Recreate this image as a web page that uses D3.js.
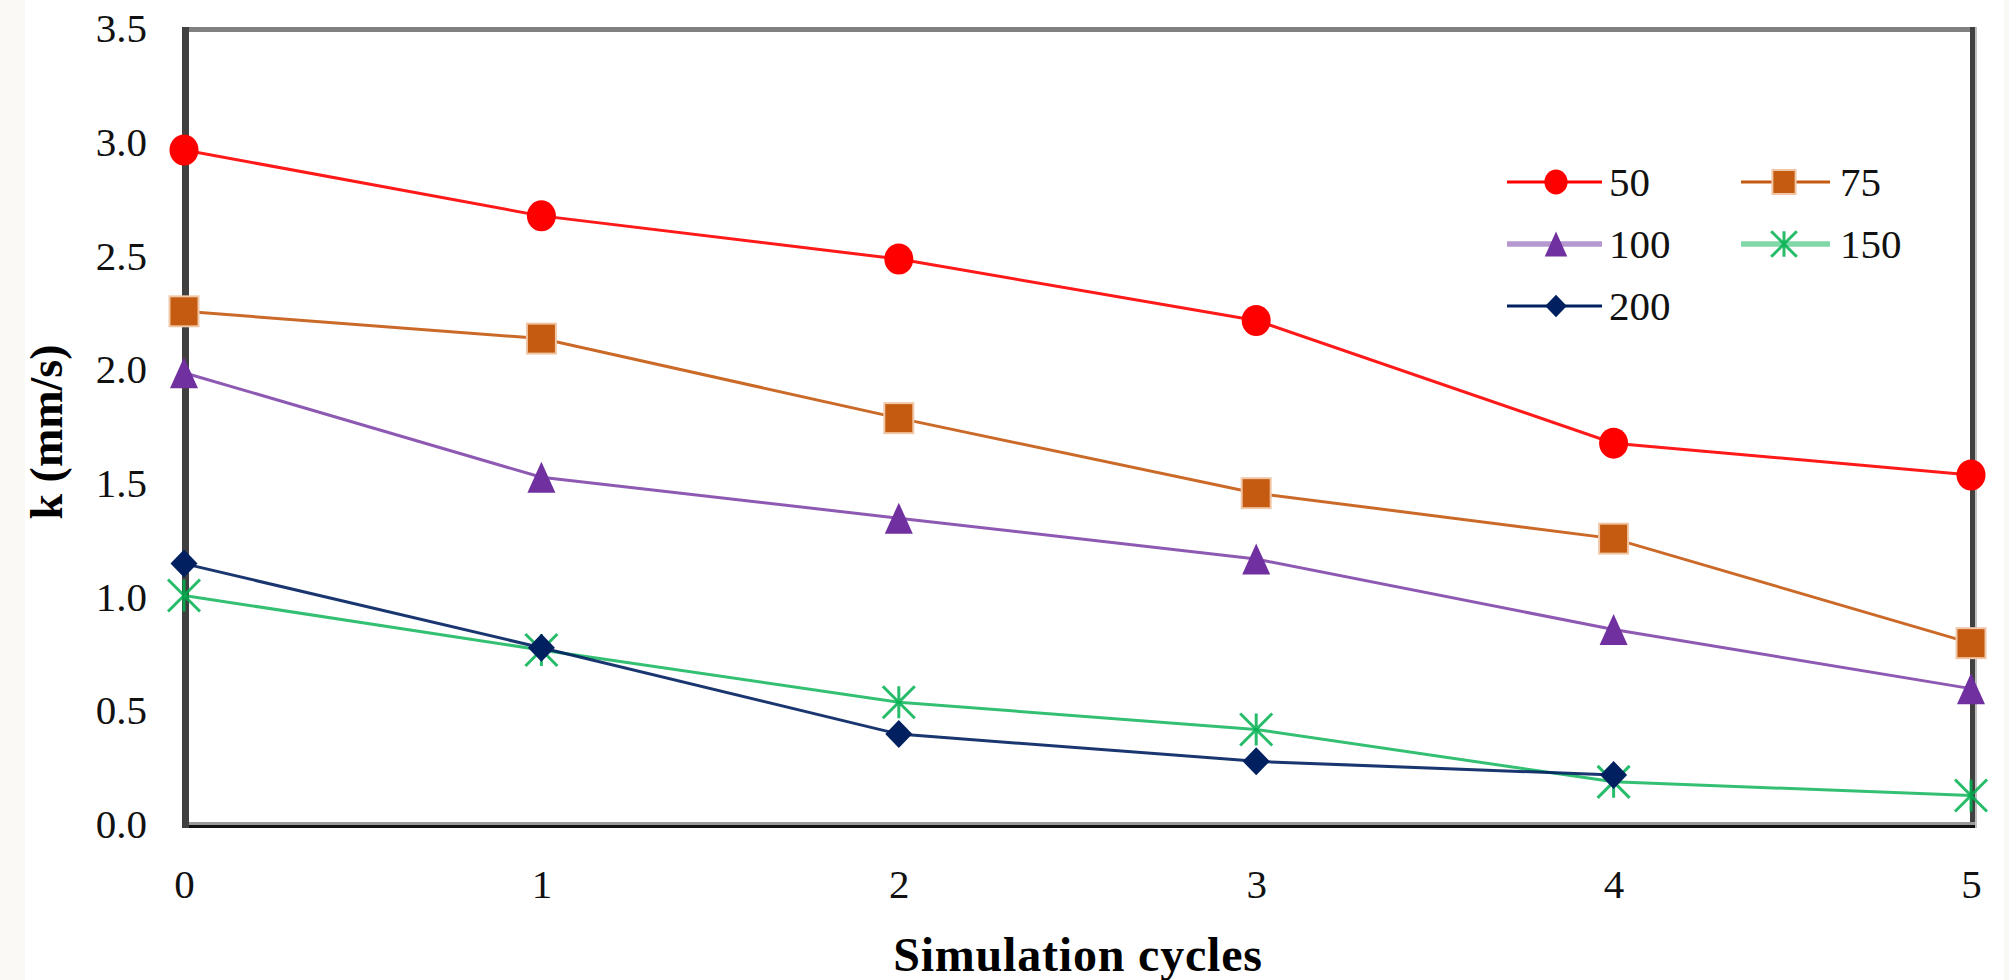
<!DOCTYPE html>
<html>
<head>
<meta charset="utf-8">
<script src="https://cdn.jsdelivr.net/npm/d3@7"></script>
<style>
  html, body { margin: 0; padding: 0; background: #ffffff; }
  svg { display: block; }
</style>
</head>
<body>
<svg id="chart" width="2009" height="980"></svg>
<script>
// ---- data ----
const cycles = [0, 1, 2, 3, 4, 5];
const yTicks = [0, 0.5, 1.0, 1.5, 2.0, 2.5, 3.0, 3.5];
const xTicks = [0, 1, 2, 3, 4, 5];
const seriesNames = ["50", "75", "100", "150", "200"];
const k50  = [2.97, 2.68, 2.49, 2.22, 1.68, 1.54];
const k75  = [2.26, 2.14, 1.79, 1.46, 1.26, 0.80];
const k100 = [1.99, 1.53, 1.35, 1.17, 0.86, 0.60];
const k150 = [1.01, 0.77, 0.54, 0.42, 0.19, 0.13];
const k200 = [1.15, 0.78, 0.40, 0.28, 0.22];
const xTitle = "Simulation cycles";
const yTitle = "k (mm/s)";

// ---- styles ----
const colors = ["#FF0000", "#C55A11", "#7030A0", "#00B050", "#002060"];
const shapes = ["circle", "square", "triangle", "star", "diamond"];
const values = [k50, k75, k100, k150, k200];

const svg = d3.select("#chart");
const W = 2009, H = 980;
svg.append("rect").attr("x", 0).attr("y", 0).attr("width", W).attr("height", H).attr("fill", "#ffffff");
svg.append("rect").attr("x", 0).attr("y", 0).attr("width", 25).attr("height", H).attr("fill", "#fbf9f6");
svg.append("rect").attr("x", 2004).attr("y", 0).attr("width", 5).attr("height", H).attr("fill", "#fbf9f6");

const x = d3.scaleLinear().domain([0, 5]).range([184, 1971]);
const y = d3.scaleLinear().domain([0, 3.5]).range([825, 29.5]);

const serif = "'Liberation Serif', 'DejaVu Serif', serif";

// ---- frame ----
const frame = svg.append("g");
frame.append("line").attr("x1", 183).attr("x2", 1974).attr("y1", 29.5).attr("y2", 29.5)
  .attr("stroke", "#808080").attr("stroke-width", 5);
frame.append("line").attr("x1", 1972.5).attr("x2", 1972.5).attr("y1", 27).attr("y2", 828)
  .attr("stroke", "#404040").attr("stroke-width", 5);
frame.append("line").attr("x1", 1976).attr("x2", 1976).attr("y1", 27).attr("y2", 828)
  .attr("stroke", "#c0c0c0").attr("stroke-width", 2);
frame.append("line").attr("x1", 183).attr("x2", 1975).attr("y1", 823.5).attr("y2", 823.5)
  .attr("stroke", "#999999").attr("stroke-width", 3);
frame.append("line").attr("x1", 183).attr("x2", 1975).attr("y1", 826.5).attr("y2", 826.5)
  .attr("stroke", "#111111").attr("stroke-width", 3);
frame.append("line").attr("x1", 185.5).attr("x2", 185.5).attr("y1", 27).attr("y2", 828)
  .attr("stroke", "#404040").attr("stroke-width", 7);

// ---- axes (labels only, no tick marks) ----
const yAxis = d3.axisLeft(y).tickValues(yTicks).tickFormat(d3.format(".1f")).tickSize(0).tickPadding(0);
const gy = svg.append("g").attr("transform", "translate(147,-1.5)").call(yAxis);
gy.select(".domain").remove();
gy.selectAll("text").attr("font-family", serif).attr("font-size", 41).attr("fill", "#111").attr("dy", "0.34em");

const xAxis = d3.axisBottom(x).tickValues(xTicks).tickFormat(d3.format("d")).tickSize(0).tickPadding(0);
const gx = svg.append("g").attr("transform", "translate(0,884)").call(xAxis);
gx.select(".domain").remove();
gx.selectAll("text").attr("font-family", serif).attr("font-size", 41).attr("fill", "#111").attr("dy", "0.34em");

// ---- titles ----
svg.append("text").attr("x", 1078).attr("y", 971).attr("text-anchor", "middle")
  .attr("font-family", serif).attr("font-weight", "bold").attr("font-size", 48)
  .attr("letter-spacing", 0.8).attr("fill", "#000")
  .text(xTitle);
svg.append("text").attr("transform", "translate(62,432) rotate(-90)").attr("text-anchor", "middle")
  .attr("font-family", serif).attr("font-weight", "bold").attr("font-size", 46).attr("fill", "#000")
  .text(yTitle);

// ---- marker drawing ----
function drawMarker(g, shape, color, cx, cy, s) {
  const sizes = {
    circle: [29, 31], square: [29, 30], triangle: [28, 31], diamond: [27, 28], star: [32, 32]
  };
  const [w0, h0] = sizes[shape];
  const w = w0 * s, h = h0 * s;
  if (shape === "circle") {
    g.append("ellipse").attr("cx", cx).attr("cy", cy).attr("rx", w / 2).attr("ry", h / 2).attr("fill", color);
  } else if (shape === "square") {
    g.append("rect").attr("x", cx - w / 2).attr("y", cy - h / 2).attr("width", w).attr("height", h)
      .attr("fill", color).attr("stroke", "#f0c8a8").attr("stroke-width", 2);
  } else if (shape === "triangle") {
    g.append("path").attr("d", `M${cx},${cy - h / 2}L${cx + w / 2},${cy + h / 2}L${cx - w / 2},${cy + h / 2}Z`)
      .attr("fill", color);
  } else if (shape === "diamond") {
    g.append("path").attr("d", `M${cx},${cy - h / 2}L${cx + w / 2},${cy}L${cx},${cy + h / 2}L${cx - w / 2},${cy}Z`)
      .attr("fill", color);
  } else if (shape === "star") {
    const hw = w / 2, hh = h / 2;
    g.append("path")
      .attr("d", `M${cx},${cy - hh}L${cx},${cy + hh}M${cx - hw},${cy - hh}L${cx + hw},${cy + hh}M${cx - hw},${cy + hh}L${cx + hw},${cy - hh}`)
      .attr("stroke", color).attr("stroke-width", 3).attr("fill", "none").attr("opacity", 0.85);
  }
}

// ---- series ----
const line = d3.line().x((d, i) => x(cycles[i])).y(d => y(d));
const plot = svg.append("g");
values.forEach((vals, si) => {
  plot.append("path").datum(vals).attr("d", line).attr("fill", "none")
    .attr("stroke", colors[si]).attr("stroke-width", 3).attr("stroke-opacity", si === 2 || si === 3 ? 0.8 : 0.9);
});
values.forEach((vals, si) => {
  const g = plot.append("g");
  vals.forEach((v, i) => drawMarker(g, shapes[si], colors[si], x(cycles[i]), y(v), 1));
});

// ---- legend ----
const legendPos = [
  { lx1: 1507, lx2: 1602, mx: 1556, tx: 1609, ly: 182 },
  { lx1: 1741, lx2: 1830, mx: 1784, tx: 1840, ly: 182 },
  { lx1: 1507, lx2: 1602, mx: 1556, tx: 1609, ly: 244 },
  { lx1: 1741, lx2: 1830, mx: 1784, tx: 1840, ly: 244 },
  { lx1: 1507, lx2: 1602, mx: 1556, tx: 1609, ly: 306 }
];
const legendLineStyle = [
  { c: "#FF0000", w: 3 }, { c: "#C55A11", w: 3 }, { c: "#b598d0", w: 5.5 }, { c: "#80d8a8", w: 5.5 }, { c: "#002060", w: 3 }
];
const lg = svg.append("g");
seriesNames.forEach((name, si) => {
  const p = legendPos[si];
  lg.append("line").attr("x1", p.lx1).attr("x2", p.lx2).attr("y1", p.ly).attr("y2", p.ly)
    .attr("stroke", legendLineStyle[si].c).attr("stroke-width", legendLineStyle[si].w);
  drawMarker(lg, shapes[si], colors[si], p.mx, p.ly, 0.8);
  lg.append("text").attr("x", p.tx).attr("y", p.ly).attr("dy", "0.34em")
    .attr("font-family", serif).attr("font-size", 41).attr("fill", "#111").text(name);
});
</script>
</body>
</html>
